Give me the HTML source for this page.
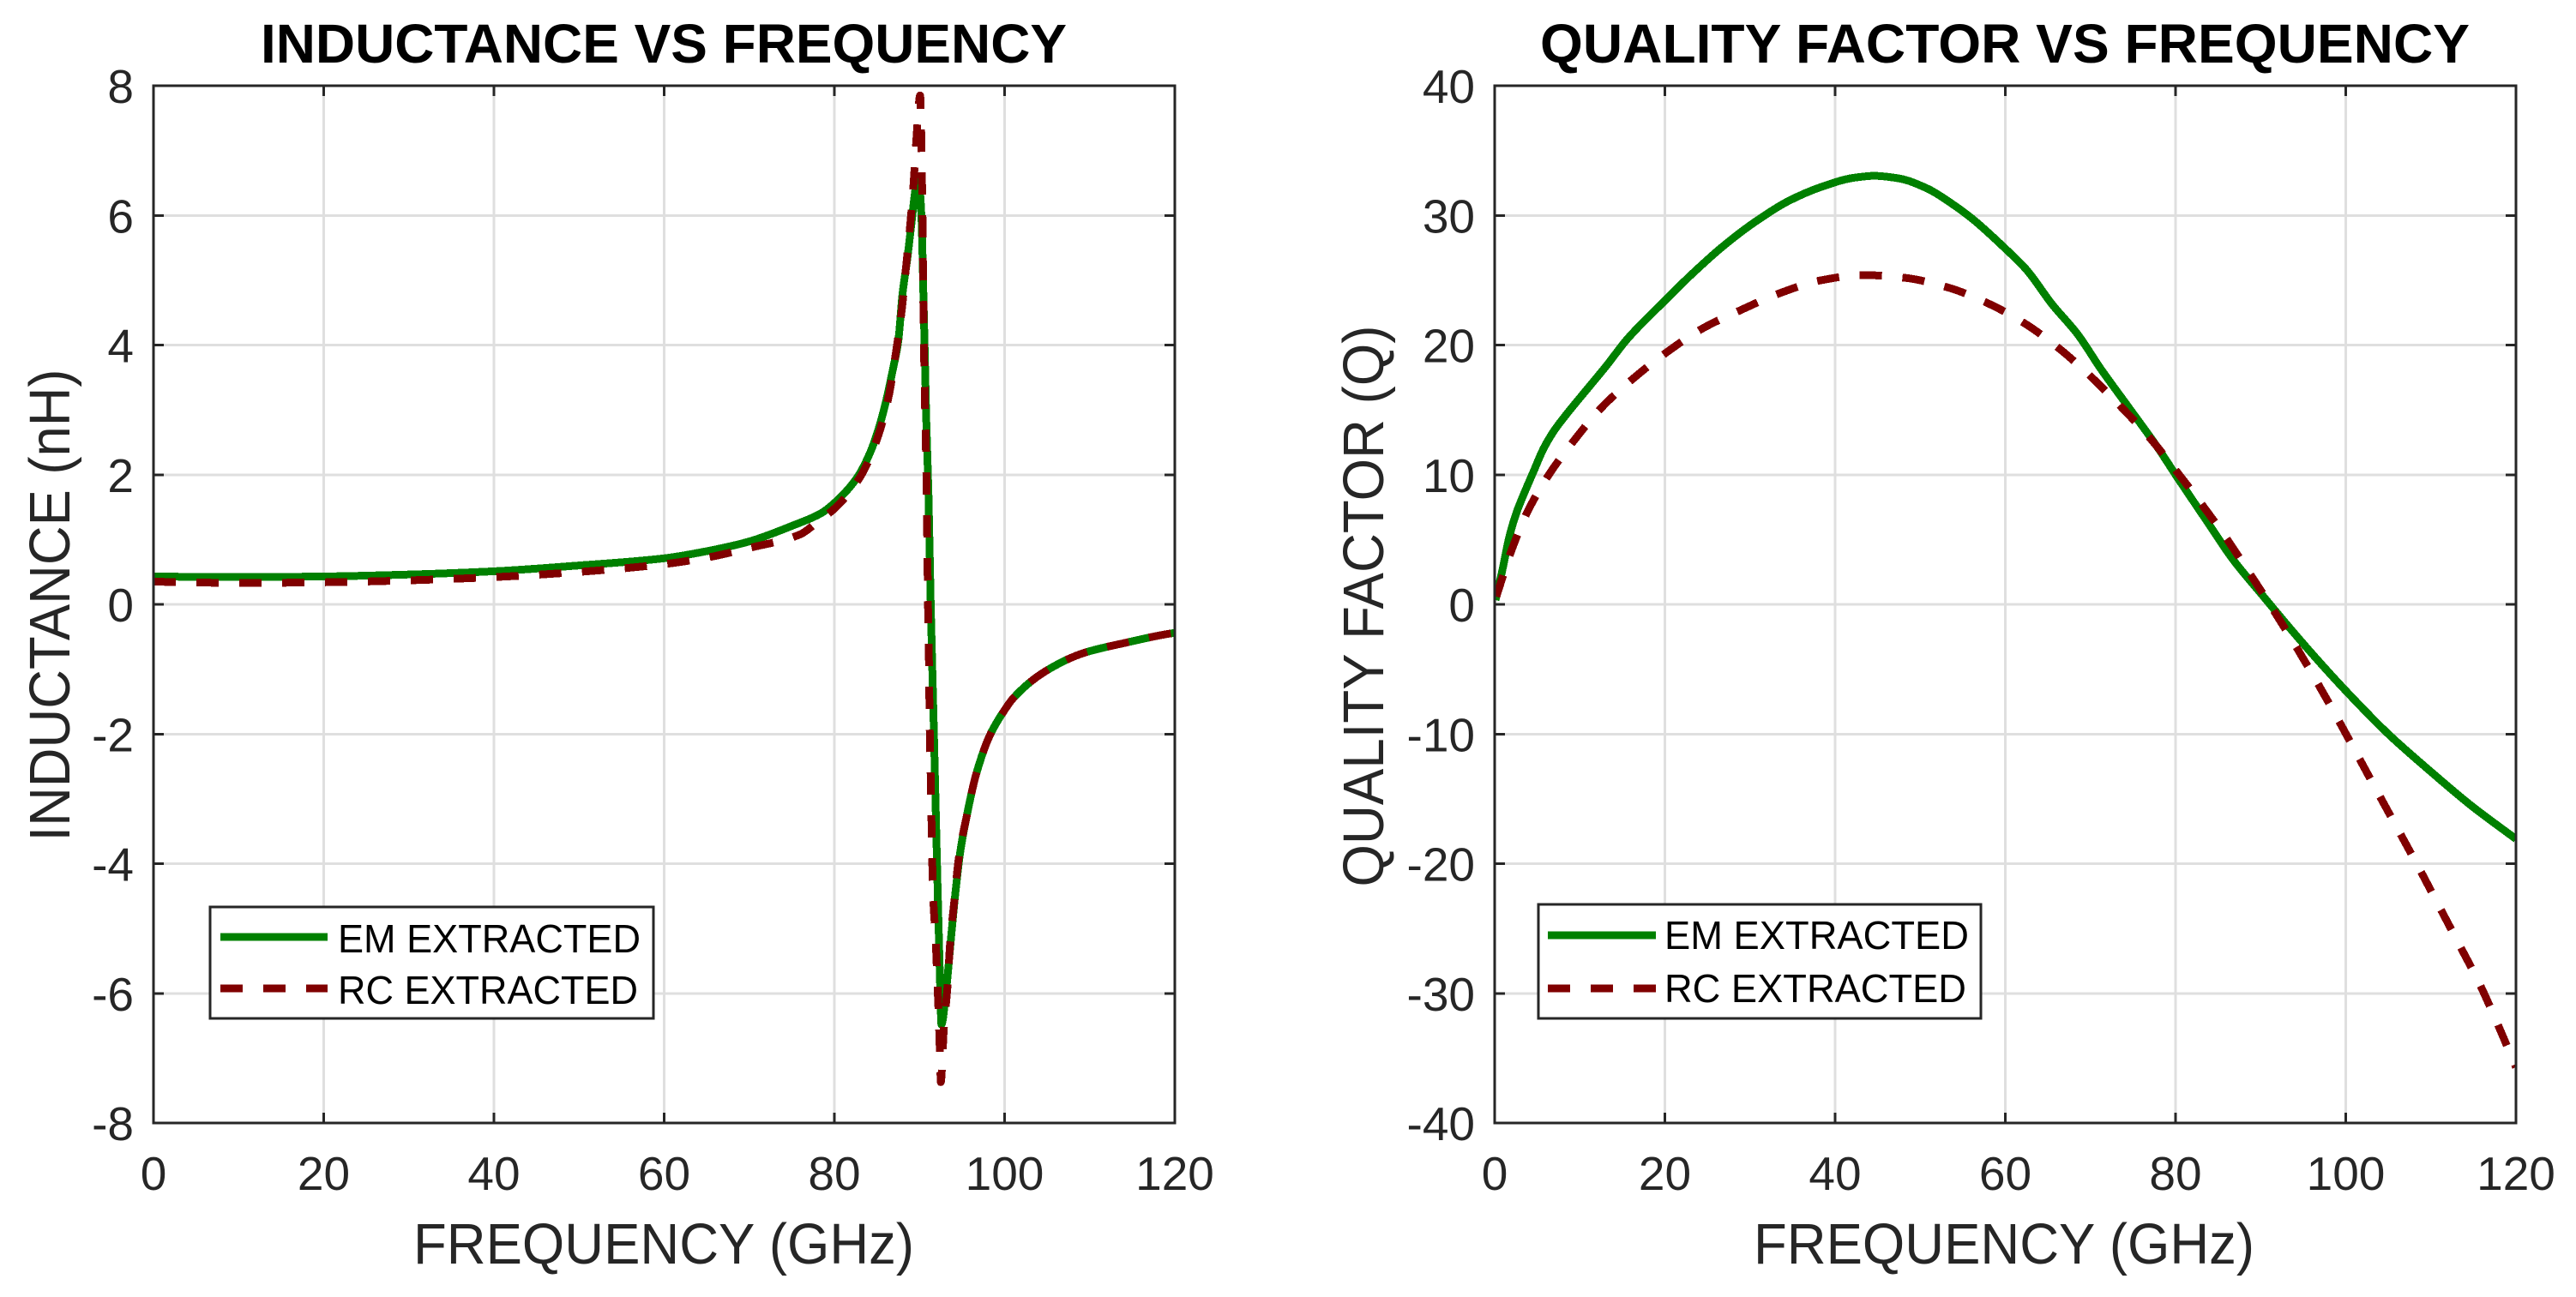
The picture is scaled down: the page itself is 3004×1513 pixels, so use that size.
<!DOCTYPE html>
<html lang="en">
<head>
<meta charset="utf-8">
<title>Inductance and Quality Factor vs Frequency</title>
<style>
  html, body { margin: 0; padding: 0; background: #fff; }
  body { width: 3004px; height: 1513px; overflow: hidden; }
  svg { display: block; font-family: "Liberation Sans", Arial, sans-serif; }
  .tick-label { font-size: 55px; fill: #262626; }
  .axis-label { font-size: 67px; fill: #262626; }
  .chart-title { font-size: 64px; font-weight: bold; fill: #000; }
  .legend-text { font-size: 46px; fill: #000; }
</style>
</head>
<body>
<svg id="figure" xmlns="http://www.w3.org/2000/svg" width="3004" height="1513" viewBox="0 0 3004 1513">
  <rect x="0" y="0" width="3004" height="1513" fill="#fff"/>
  <defs>
    <clipPath id="clip-left"><rect x="179" y="100" width="1191" height="1210"/></clipPath>
    <clipPath id="clip-right"><rect x="1743" y="100" width="1191" height="1210"/></clipPath>
  </defs>

  <g id="panel-left">
    <rect x="179" y="100" width="1191" height="1210" fill="#fff"/>
    <g id="left-grid"></g>
    <g id="left-series" clip-path="url(#clip-left)"></g>
    <rect x="179" y="100" width="1191" height="1210" fill="none" stroke="#262626" stroke-width="3" shape-rendering="crispEdges"/>
    <g id="left-ticks"></g>
    <text class="chart-title" x="774" y="73" text-anchor="middle" textLength="940" lengthAdjust="spacingAndGlyphs">INDUCTANCE VS FREQUENCY</text>
    <text class="axis-label" x="774" y="1474" text-anchor="middle" textLength="584" lengthAdjust="spacingAndGlyphs">FREQUENCY (GHz)</text>
    <text class="axis-label" transform="translate(81 706) rotate(-90)" text-anchor="middle" textLength="551" lengthAdjust="spacingAndGlyphs">INDUCTANCE (nH)</text>
    <g>
      <rect x="245" y="1058" width="517" height="130" fill="#fff" stroke="#262626" stroke-width="3" shape-rendering="crispEdges"/>
      <line x1="257" y1="1093" x2="382" y2="1093" stroke="#008000" stroke-width="9" shape-rendering="crispEdges"/>
      <line x1="257" y1="1153" x2="382" y2="1153" stroke="#800000" stroke-width="9" stroke-dasharray="26 24" shape-rendering="crispEdges"/>
      <text class="legend-text" x="394" y="1111" textLength="353" lengthAdjust="spacingAndGlyphs">EM EXTRACTED</text>
      <text class="legend-text" x="394" y="1171" textLength="350" lengthAdjust="spacingAndGlyphs">RC EXTRACTED</text>
    </g>
  </g>

  <g id="panel-right">
    <rect x="1743" y="100" width="1191" height="1210" fill="#fff"/>
    <g id="right-grid"></g>
    <g id="right-series" clip-path="url(#clip-right)"></g>
    <rect x="1743" y="100" width="1191" height="1210" fill="none" stroke="#262626" stroke-width="3" shape-rendering="crispEdges"/>
    <g id="right-ticks"></g>
    <text class="chart-title" x="2338" y="73" text-anchor="middle" textLength="1084" lengthAdjust="spacingAndGlyphs">QUALITY FACTOR VS FREQUENCY</text>
    <text class="axis-label" x="2337" y="1474" text-anchor="middle" textLength="584" lengthAdjust="spacingAndGlyphs">FREQUENCY (GHz)</text>
    <text class="axis-label" transform="translate(1613 707) rotate(-90)" text-anchor="middle" textLength="655" lengthAdjust="spacingAndGlyphs">QUALITY FACTOR (Q)</text>
    <g>
      <rect x="1794" y="1055" width="516" height="133" fill="#fff" stroke="#262626" stroke-width="3" shape-rendering="crispEdges"/>
      <line x1="1805" y1="1091" x2="1931" y2="1091" stroke="#008000" stroke-width="9" shape-rendering="crispEdges"/>
      <line x1="1805" y1="1153" x2="1931" y2="1153" stroke="#800000" stroke-width="9" stroke-dasharray="26 24" shape-rendering="crispEdges"/>
      <text class="legend-text" x="1941" y="1107" textLength="355" lengthAdjust="spacingAndGlyphs">EM EXTRACTED</text>
      <text class="legend-text" x="1941" y="1169" textLength="352" lengthAdjust="spacingAndGlyphs">RC EXTRACTED</text>
    </g>
  </g>
</svg>

<script>
var freqTicks = [0, 20, 40, 60, 80, 100, 120];
var inductanceTicks = [8, 6, 4, 2, 0, -2, -4, -6, -8];
var qualityTicks = [40, 30, 20, 10, 0, -10, -20, -30, -40];

var inductanceEmFreq = [0, 10, 20, 30, 40, 50, 60, 65, 70, 75, 78.5, 80.7, 82.7, 84.2, 85.2, 86.1, 86.9, 87.5, 88, 88.6, 89.1, 89.6, 89.9, 90.1, 90.28, 90.45, 90.6, 90.8, 91.05, 91.32, 91.7, 92.06, 92.45, 92.58, 93.1, 93.6, 94.1, 94.8, 95.56, 96.66, 98.34, 100, 101, 104.7, 109.3, 114.3, 119, 120];
var inductanceEm = [0.43, 0.42, 0.43, 0.46, 0.51, 0.6, 0.71, 0.82, 0.97, 1.21, 1.41, 1.65, 1.96, 2.34, 2.71, 3.15, 3.64, 4.05, 4.78, 5.36, 5.93, 6.46, 6.58, 6.3, 5.8, 4.83, 4.0, 2.84, 1.74, 0, -2, -4, -6, -6.48, -6, -5.3, -4.6, -3.81, -3.26, -2.62, -2, -1.63, -1.45, -1.04, -0.75, -0.59, -0.46, -0.44];

var inductanceRcFreq = [0, 10, 20, 30, 40, 50, 60, 65, 70, 76, 78, 80.2, 83.1, 85.1, 86.4, 87.2, 87.9, 88.4, 88.9, 89.3, 89.6, 90.08, 90.28, 90.35, 90.4, 90.45, 90.6, 90.7, 90.8, 90.87, 91, 91.08, 91.2, 91.3, 91.6, 91.9, 92.1, 92.3, 92.45, 92.5, 92.87, 93.3, 93.6, 94.1, 94.6, 95.56, 96.66, 98.34, 100, 101, 104.7, 109.3, 114.3, 119, 120];
var inductanceRc = [0.35, 0.33, 0.34, 0.37, 0.42, 0.5, 0.62, 0.72, 0.87, 1.08, 1.27, 1.5, 1.98, 2.58, 3.22, 3.86, 4.52, 5.18, 5.84, 6.48, 7.1, 7.85, 6.68, 6.02, 5.35, 4.69, 3.4, 2.74, 2.08, 1.48, 0, -0.57, -1.88, -2.54, -4.48, -5.17, -5.83, -6.5, -7.17, -7.37, -6.53, -5.88, -5.22, -4.57, -3.93, -3.26, -2.62, -2, -1.63, -1.45, -1.04, -0.75, -0.59, -0.46, -0.44];

var qualityEmFreq = [0.1, 0.87, 1.71, 2.55, 3.56, 4.57, 5.74, 6.92, 8.43, 10.78, 13.13, 15.5, 17.2, 19.35, 22.9, 26.8, 30.6, 34.5, 38.4, 42.2, 44.6, 47.5, 50.9, 53.5, 56.1, 60, 62.5, 65.5, 68.5, 71.2, 74.6, 78, 80.3, 83.7, 86.7, 90.4, 93.2, 96.3, 100.2, 105, 109.9, 114.7, 120];
var qualityEm = [0.33, 2.53, 5.18, 7.05, 8.71, 10.25, 12.01, 13.33, 14.65, 16.53, 18.4, 20.4, 21.6, 23, 25.3, 27.6, 29.5, 31.1, 32.2, 32.9, 33.05, 32.85, 32.05, 31, 29.75, 27.44, 25.8, 23.14, 20.83, 18.18, 15.1, 12, 9.7, 6.4, 3.5, 0.55, -1.65, -4, -6.8, -10, -12.85, -15.5, -18.1];

var qualityRcFreq = [0.2, 2, 3.9, 6.4, 9.4, 12.6, 16.25, 20.25, 24.4, 28.6, 33.5, 38.4, 43.2, 48, 53.1, 57.7, 62.2, 66.2, 70, 73.5, 76.9, 80, 83.1, 86, 88.8, 91.5, 94.2, 96.8, 99.2, 101.6, 104, 106.5, 108.9, 111.3, 113.7, 115.6, 117.6, 120];
var qualityRc = [0.6, 4.2, 7.2, 10.03, 12.7, 15.2, 17.4, 19.46, 21.27, 22.6, 24, 25, 25.4, 25.2, 24.47, 23.3, 21.7, 19.8, 17.6, 15.3, 12.9, 10.36, 7.7, 5.07, 2.3, -0.44, -3.3, -6.2, -9, -11.9, -14.8, -17.8, -20.7, -23.7, -26.7, -29.1, -32, -35.7];

var SVG_NS = 'http://www.w3.org/2000/svg';

function makeLinear(d0, d1, r0, r1) {
  return function (v) { return r0 + (v - d0) * (r1 - r0) / (d1 - d0); };
}

function makeNode(tag, parent, attrs) {
  var node = document.createElementNS(SVG_NS, tag);
  Object.keys(attrs).forEach(function (k) { node.setAttribute(k, attrs[k]); });
  parent.appendChild(node);
  return node;
}

function drawAxes(prefix, side, xScale, yScale, yTicks, left, right, top, bottom, yLabelX) {
  var grid = document.getElementById(side + '-grid');
  var ticks = document.getElementById(side + '-ticks');
  var tickLen = 12;
  freqTicks.forEach(function (t) {
    var x = xScale(t);
    if (t !== freqTicks[0] && t !== freqTicks[freqTicks.length - 1]) {
      var g = makeNode('line', grid, { x1: x, y1: top, x2: x, y2: bottom, stroke: '#dfdfdf', 'stroke-width': 3, 'shape-rendering': 'crispEdges' });
      
      
      var t1 = makeNode('line', ticks, { x1: x, y1: top, x2: x, y2: top + tickLen, stroke: '#262626', 'stroke-width': 3, 'shape-rendering': 'crispEdges' });
      
      
      var t2 = makeNode('line', ticks, { x1: x, y1: bottom, x2: x, y2: bottom - tickLen, stroke: '#262626', 'stroke-width': 3, 'shape-rendering': 'crispEdges' });
      
      
    }
    var label = makeNode('text', ticks, { x: x, y: 1388, 'text-anchor': 'middle', 'class': 'tick-label' });
    
    
    label.textContent = String(t);
  });
  yTicks.forEach(function (t, i) {
    var y = yScale(t);
    if (i !== 0 && i !== yTicks.length - 1) {
      var g = makeNode('line', grid, { x1: left, y1: y, x2: right, y2: y, stroke: '#dfdfdf', 'stroke-width': 3, 'shape-rendering': 'crispEdges' });
      
      
      var t1 = makeNode('line', ticks, { x1: left, y1: y, x2: left + tickLen, y2: y, stroke: '#262626', 'stroke-width': 3, 'shape-rendering': 'crispEdges' });
      
      
      var t2 = makeNode('line', ticks, { x1: right, y1: y, x2: right - tickLen, y2: y, stroke: '#262626', 'stroke-width': 3, 'shape-rendering': 'crispEdges' });
      
      
    }
    var label = makeNode('text', ticks, { x: yLabelX, y: y + 20, 'text-anchor': 'end', 'class': 'tick-label' });
    
    
    label.textContent = String(t);
  });
}

/* Monotone cubic curve through the mapped data points, so the read values stay
   on the curve without overshoot while the polyline kinks disappear. */
function smoothPath(px, py) {
  var n = px.length, h = [], s = [], m = [], i;
  for (i = 0; i < n - 1; i++) {
    h[i] = px[i + 1] - px[i];
    s[i] = (py[i + 1] - py[i]) / h[i];
  }
  m[0] = s[0];
  m[n - 1] = s[n - 2];
  for (i = 1; i < n - 1; i++) {
    if (s[i - 1] * s[i] <= 0) {
      m[i] = 0;
    } else {
      var w1 = 2 * h[i] + h[i - 1], w2 = h[i] + 2 * h[i - 1];
      m[i] = (w1 + w2) / (w1 / s[i - 1] + w2 / s[i]);
    }
  }
  var d = 'M' + px[0].toFixed(2) + ' ' + py[0].toFixed(2);
  for (i = 0; i < n - 1; i++) {
    d += 'C' + (px[i] + h[i] / 3).toFixed(2) + ' ' + (py[i] + m[i] * h[i] / 3).toFixed(2) + ' ' +
         (px[i + 1] - h[i] / 3).toFixed(2) + ' ' + (py[i + 1] - m[i + 1] * h[i] / 3).toFixed(2) + ' ' +
         px[i + 1].toFixed(2) + ' ' + py[i + 1].toFixed(2);
  }
  return d;
}

function drawSeries(parentId, name, xs, ys, xScale, yScale, color, dash) {
  var attrs = { d: smoothPath(xs.map(xScale), ys.map(yScale)), fill: 'none', stroke: color, 'stroke-width': 9, 'stroke-linejoin': 'round', 'shape-rendering': 'crispEdges' };
  if (dash) { attrs['stroke-dasharray'] = dash; }
  var line = makeNode('path', document.getElementById(parentId), attrs);
  
  
}

var leftX = makeLinear(0, 120, 179, 1370);
var leftY = makeLinear(-8, 8, 1310, 100);
var rightX = makeLinear(0, 120, 1743, 2934);
var rightY = makeLinear(-40, 40, 1310, 100);

drawAxes('inductance', 'left', leftX, leftY, inductanceTicks, 179, 1370, 100, 1310, 156);
drawAxes('quality', 'right', rightX, rightY, qualityTicks, 1743, 2934, 100, 1310, 1720);

drawSeries('left-series', 'inductance-em-extracted-line', inductanceEmFreq, inductanceEm, leftX, leftY, '#008000', null);
drawSeries('left-series', 'inductance-rc-extracted-line', inductanceRcFreq, inductanceRc, leftX, leftY, '#800000', '26 24');
drawSeries('right-series', 'quality-em-extracted-line', qualityEmFreq, qualityEm, rightX, rightY, '#008000', null);
drawSeries('right-series', 'quality-rc-extracted-line', qualityRcFreq, qualityRc, rightX, rightY, '#800000', '26 24');
</script>
</body>
</html>
